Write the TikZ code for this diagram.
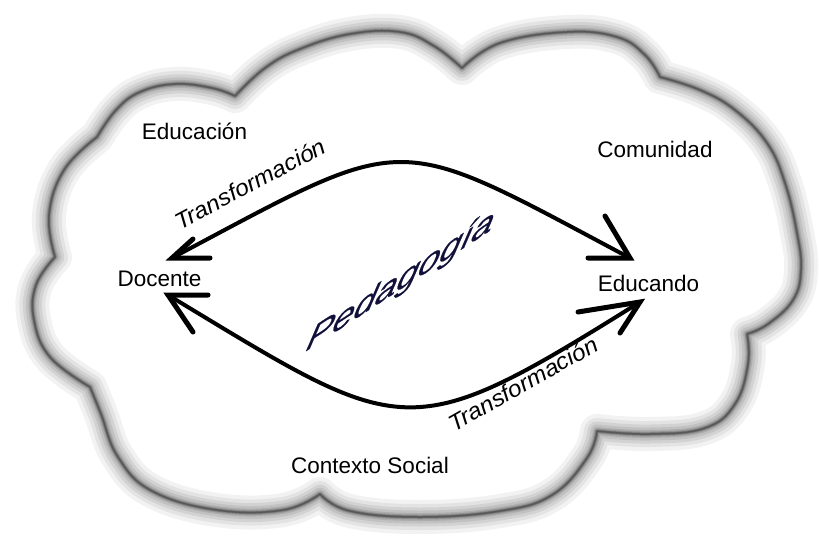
\documentclass[tikz,border=0pt]{standalone}
\usepackage{fontspec}
\setmainfont{Liberation Sans}
\newfontfamily\transfont[FakeStretch=1.06]{Liberation Sans}
\newfontfamily\pedfont[FakeStretch=1.1,FakeBold=0.6]{Liberation Sans}
\definecolor{pedcol}{HTML}{10103A}
\def\cloudpath{
 plot[smooth,tension=0.7] coordinates {(55,257) (49,215) (64,170) (97,137)}
 -- plot[smooth,tension=0.7] coordinates {(97,137) (116,110) (140,92) (175,84) (212,88) (235,96)}
 -- plot[smooth,tension=0.7] coordinates {(235,96) (265,68) (300,49) (350,34) (400,32) (434,46) (462,68)}
 -- plot[smooth,tension=0.7] coordinates {(462,68) (500,43) (567,32) (617,37) (645,55) (660,77)}
 -- plot[smooth,tension=0.7] coordinates {(660,77) (700,90) (735,110) (767,143) (785,183) (797,233) (801,270) (793,300) (768,324) (747,334)}
 -- plot[smooth,tension=0.7] coordinates {(747,334) (748,364) (735,404) (705,428) (650,434) (597,431)}
 -- plot[smooth,tension=0.7] coordinates {(597,431) (587,458) (552,495) (500,511) (420,517) (350,511) (320,494)}
 -- plot[smooth,tension=0.7] coordinates {(320,494) (283,510) (217,510) (152,491) (118,457) (101,414) (90,387)}
 -- plot[smooth,tension=0.7] coordinates {(90,387) (50,357) (34,320) (36,285) (55,257)}
 -- cycle}
\begin{document}
\begin{tikzpicture}[x=1pt,y=-1pt,
  lbl/.style={font=\fontsize{22.5}{27}\selectfont, inner sep=0pt, anchor=base},
  trans/.style={font=\transfont\itshape\fontsize{23}{27}\selectfont, inner sep=0pt, anchor=base},
  ped/.style={font=\pedfont\itshape\fontsize{35}{40}\selectfont, text=pedcol, inner sep=0pt, anchor=base},
  conn/.style={line width=4pt, line cap=round},
  barb/.style={line width=5pt, line cap=round, line join=miter}]
\useasboundingbox (0,0) rectangle (819,544);
\fill[white] (0,0) rectangle (819,544);
% cloud with blurred grey outline
\fill[white] \cloudpath;
\foreach \w/\o in {34/0.05,26/0.06,19/0.07,13/0.08,8/0.1,5/0.14,3/0.2,1.5/0.25}
  \draw[line width=\w pt, black, opacity=\o, line join=round] \cloudpath;
% labels
\node[lbl] (educacion) at (194.5,139) {Educación};
\node[lbl] (comunidad) at (655,157) {Comunidad};
\node[lbl] (docente) at (159.5,286) {Docente};
\node[lbl] (educando) at (648.5,291) {Educando};
\node[lbl] (contexto) at (370,473) {Contexto Social};
\begin{scope}[shift={(254,191)}]
  \node[trans, rotate=28] (trans1) at (0,0) {Transformación};
\end{scope}
\begin{scope}[shift={(527,391)}]
  \node[trans, rotate=29.5] (trans2) at (0,0) {Transformación};
\end{scope}
\begin{scope}[shift={(398,291)}]
  \node[ped, cm={1,0.655,0.28,1,(0,0)}] (pedagogia) at (0,0) {Pedagogía};
\end{scope}
% arrow tips
\coordinate (TL) at (172,258);
\coordinate (TR) at (630,258);
\coordinate (BL) at (168,295);
\coordinate (BR) at (640,302);
% curves
\draw[conn] (TL) .. controls (413,130) and (389,130) .. (TR);
\draw[conn] (BL) .. controls (405,438) and (405,449) .. (BR);
% barbs
\draw[barb] (TL) ++(38,0) -- (TL) -- ++(21,-19);
\draw[barb] (TR) ++(-42,0) -- (TR) -- ++(-25,-42);
\draw[barb] (BL) ++(40,0) -- (BL) -- ++(25,37);
\draw[barb] (BR) ++(-62,10) -- (BR) -- ++(-20,31);
\end{tikzpicture}
\end{document}
